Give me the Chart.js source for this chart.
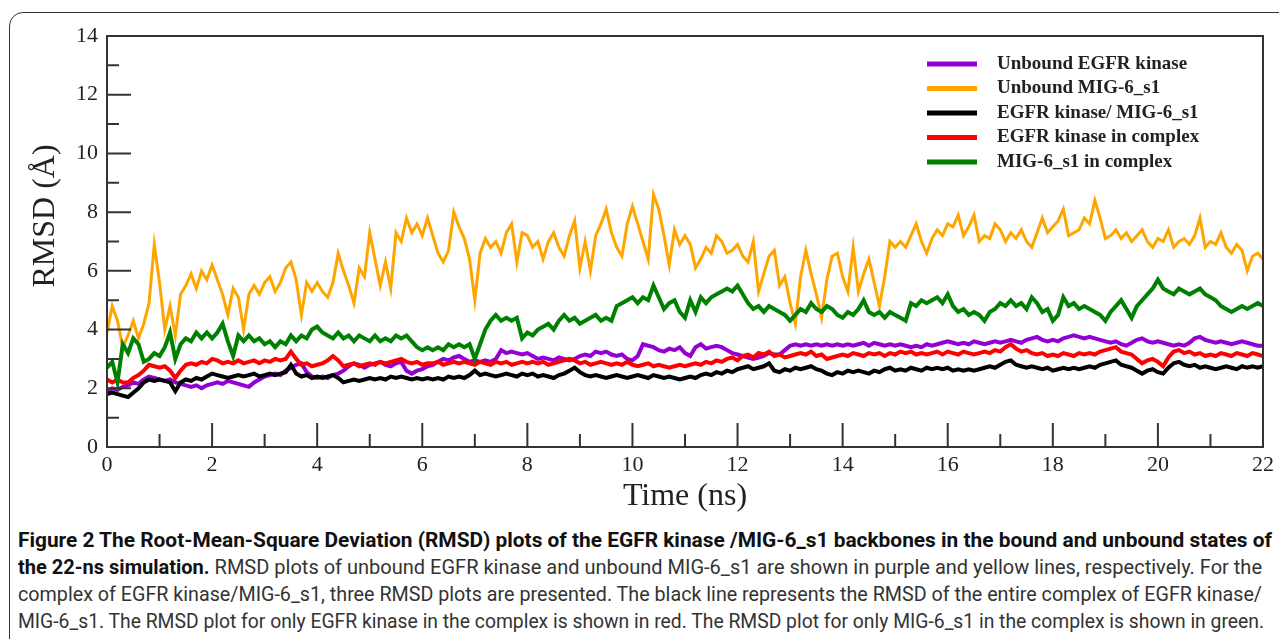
<!DOCTYPE html>
<html>
<head>
<meta charset="utf-8">
<script src="https://cdn.jsdelivr.net/npm/chart.js@4/dist/chart.umd.min.js"></script>
<style>
  html, body { margin: 0; padding: 0; background: #fff; }
  body { width: 1279px; height: 639px; position: relative; overflow: hidden; }
  #frame { position: absolute; left: 9px; top: 12px; width: 1300px; height: 660px;
           border: 1.5px solid #333; border-radius: 14px; box-sizing: border-box; }
  #chart-box { position: absolute; left: 0; top: 0; width: 1279px; height: 525px; }
  #caption { position: absolute; left: 18px; top: 527px; font-family: 'Liberation Sans Narrow', 'Roboto', 'Open Sans', sans-serif;
             font-size: 20.5px; line-height: 27px; color: #333; }
  #caption .line { white-space: nowrap; transform-origin: 0 50%; display: block; width: max-content; }
  #caption b { color: #111; }
</style>
</head>
<body>
<div id="frame"></div>
<div id="chart-box"><canvas id="rmsd-chart"></canvas></div>
<div id="caption">
  <span class="line" data-w="1254"><b>Figure 2 The Root-Mean-Square Deviation (RMSD) plots of the EGFR kinase /MIG-6_s1 backbones in the bound and unbound states of</b></span>
  <span class="line" data-w="1244"><b>the 22-ns simulation.</b> RMSD plots of unbound EGFR kinase and unbound MIG-6_s1 are shown in purple and yellow lines, respectively. For the</span>
  <span class="line" data-w="1244">complex of EGFR kinase/MIG-6_s1, three RMSD plots are presented. The black line represents the RMSD of the entire complex of EGFR kinase/</span>
  <span class="line" data-w="1246">MIG-6_s1. The RMSD plot for only EGFR kinase in the complex is shown in red. The RMSD plot for only MIG-6_s1 in the complex is shown in green.</span>
</div>
<script>
// RMSD traces, one value every 0.1 ns (0 .. 22 ns)
const timeStep = 0.1;
const timeNs = [];
for (let i = 0; i <= 220; i++) timeNs.push(+(i * timeStep).toFixed(1));

const seriesLabels = ['Unbound EGFR kinase', 'Unbound MIG-6_s1', 'EGFR kinase/ MIG-6_s1', 'EGFR kinase in complex', 'MIG-6_s1 in complex'];
const seriesColors = ['#9400d3', '#ffa500', '#000000', '#ff0000', '#008000'];

const unboundEgfr = [
  1.9,2.0,1.95,2.05,2.1,2.2,2.15,2.3,2.4,2.35, 2.3,2.25,2.3,2.2,2.15,2.1,2.05,2.1,2.0,2.1,
  2.15,2.2,2.15,2.25,2.2,2.15,2.1,2.05,2.2,2.3, 2.4,2.45,2.5,2.45,2.6,2.7,2.8,2.85,2.55,2.4,
  2.35,2.4,2.35,2.45,2.5,2.6,2.75,2.85,2.8,2.7, 2.8,2.85,2.9,2.8,2.75,2.85,2.9,2.6,2.5,2.6,
  2.65,2.75,2.8,2.9,3.0,2.95,3.05,3.1,3.0,2.9, 2.95,2.9,2.95,2.9,3.0,3.3,3.2,3.25,3.2,3.15,
  3.2,3.1,3.0,3.05,3.0,2.95,3.05,3.0,2.95,3.0, 3.1,3.15,3.1,3.25,3.2,3.25,3.15,3.1,3.15,3.0,
  2.95,3.1,3.5,3.45,3.4,3.3,3.25,3.35,3.3,3.4, 3.2,3.1,3.4,3.5,3.35,3.4,3.45,3.4,3.3,3.2,
  3.15,3.1,3.05,3.0,3.05,3.1,3.2,3.15,3.15,3.3, 3.45,3.5,3.45,3.5,3.45,3.5,3.45,3.5,3.45,3.5,
  3.45,3.5,3.45,3.5,3.55,3.45,3.55,3.5,3.45,3.5, 3.45,3.5,3.45,3.4,3.45,3.4,3.5,3.45,3.5,3.55,
  3.6,3.55,3.5,3.55,3.5,3.6,3.55,3.5,3.55,3.6, 3.55,3.6,3.65,3.6,3.55,3.65,3.7,3.75,3.65,3.6,
  3.65,3.6,3.7,3.75,3.8,3.75,3.7,3.75,3.7,3.65, 3.6,3.55,3.6,3.5,3.45,3.55,3.65,3.7,3.6,3.55,
  3.6,3.55,3.5,3.45,3.5,3.45,3.55,3.7,3.75,3.65, 3.6,3.55,3.6,3.55,3.5,3.55,3.6,3.55,3.5,3.45,
  3.45
];

const unboundMig6 = [
  3.9,4.8,4.3,3.4,3.8,4.3,3.7,4.2,4.9,6.9, 5.6,4.0,4.8,3.8,5.2,5.5,5.9,5.4,6.0,5.7,
  6.2,5.7,5.2,4.5,5.4,5.1,4.0,5.2,5.5,5.2, 5.6,5.8,5.3,5.6,6.1,6.3,5.7,4.5,5.6,5.3,
  5.6,5.3,5.1,5.6,6.6,6.0,5.5,4.9,6.1,5.8, 7.3,6.4,5.5,6.3,5.4,7.3,7.0,7.8,7.3,7.6,
  7.2,7.8,7.2,6.6,6.3,6.7,8.0,7.5,7.1,6.4, 5.0,6.6,7.1,6.8,7.0,6.6,7.3,7.6,6.3,7.3,
  7.2,6.8,7.0,6.4,7.0,7.3,6.8,6.5,7.2,7.7, 6.1,7.0,6.0,7.2,7.6,8.1,7.3,6.8,6.5,7.6,
  8.2,7.6,7.0,6.4,8.6,8.1,7.2,6.2,7.4,6.9, 7.2,6.9,6.1,6.4,6.8,6.6,7.2,7.0,6.6,6.7,
  6.9,6.5,6.3,7.0,5.3,5.9,6.5,6.7,5.5,5.8, 4.9,4.2,5.8,6.7,5.9,5.2,4.4,5.7,6.5,6.6,
  5.8,5.3,6.8,5.3,5.9,6.4,5.6,4.8,5.8,7.0, 6.8,7.0,6.8,7.2,7.6,7.0,6.6,7.1,7.4,7.2,
  7.6,7.5,7.9,7.2,7.5,7.9,7.0,7.2,7.1,7.6, 7.4,7.0,7.3,7.1,7.4,7.0,6.8,7.3,7.8,7.3,
  7.5,7.7,8.1,7.2,7.3,7.4,7.8,7.6,8.4,7.8, 7.1,7.2,7.4,7.1,7.3,7.0,7.2,7.4,7.0,6.8,
  7.1,7.0,7.4,6.8,7.0,7.1,6.9,7.2,7.8,6.8, 7.0,6.9,7.3,6.8,6.6,6.9,6.7,6.0,6.5,6.6,
  6.4
];

const complexWhole = [
  1.8,1.85,1.8,1.75,1.7,1.85,2.0,2.2,2.3,2.25, 2.3,2.25,2.2,1.9,2.2,2.3,2.25,2.35,2.3,2.4,
  2.5,2.45,2.4,2.35,2.4,2.45,2.4,2.45,2.5,2.4, 2.45,2.5,2.45,2.5,2.55,2.8,2.5,2.4,2.45,2.35,
  2.4,2.35,2.4,2.45,2.35,2.2,2.25,2.3,2.25,2.3, 2.35,2.3,2.35,2.3,2.4,2.35,2.4,2.35,2.3,2.35,
  2.3,2.35,2.3,2.35,2.3,2.4,2.35,2.4,2.35,2.45, 2.6,2.45,2.5,2.45,2.4,2.45,2.5,2.45,2.4,2.5,
  2.45,2.5,2.4,2.45,2.4,2.35,2.45,2.5,2.6,2.7, 2.55,2.45,2.4,2.45,2.4,2.35,2.4,2.45,2.4,2.35,
  2.4,2.45,2.4,2.35,2.45,2.4,2.35,2.4,2.35,2.3, 2.35,2.4,2.35,2.45,2.5,2.45,2.55,2.5,2.6,2.55,
  2.65,2.7,2.75,2.65,2.7,2.75,2.85,2.6,2.55,2.65, 2.6,2.7,2.65,2.7,2.75,2.65,2.6,2.5,2.45,2.55,
  2.5,2.6,2.55,2.6,2.55,2.5,2.6,2.55,2.65,2.7, 2.6,2.65,2.6,2.7,2.65,2.6,2.7,2.65,2.7,2.65,
  2.7,2.6,2.65,2.6,2.65,2.6,2.65,2.7,2.75,2.7, 2.8,2.9,2.95,2.8,2.75,2.7,2.75,2.7,2.65,2.7,
  2.6,2.65,2.7,2.65,2.7,2.65,2.7,2.75,2.7,2.8, 2.85,2.9,2.95,2.8,2.75,2.7,2.6,2.5,2.6,2.65,
  2.55,2.5,2.7,2.85,2.9,2.8,2.75,2.8,2.7,2.75, 2.7,2.65,2.7,2.75,2.7,2.65,2.75,2.7,2.75,2.7,
  2.75
];

const egfrInComplex = [
  2.3,2.2,2.3,2.2,2.2,2.35,2.45,2.6,2.8,2.75, 2.7,2.75,2.6,2.35,2.6,2.8,2.85,2.8,2.9,2.85,
  3.0,2.95,2.85,2.9,2.85,2.95,2.85,2.9,2.95,2.85, 2.95,2.9,3.0,2.95,3.0,3.25,3.0,2.8,2.85,2.75,
  2.8,2.85,2.95,3.1,2.95,2.75,2.8,2.85,2.75,2.8, 2.85,2.8,2.9,2.85,2.9,2.95,3.0,2.9,2.85,2.9,
  2.8,2.85,2.85,2.9,2.8,2.85,2.9,2.85,2.9,2.85, 2.8,2.9,2.85,2.8,2.9,2.85,2.9,2.8,2.85,2.9,
  2.85,2.9,2.85,2.9,2.8,2.85,2.9,2.95,3.0,2.95, 2.85,2.9,2.8,2.85,2.9,2.85,2.8,2.85,2.8,2.9,
  2.8,2.75,2.8,2.85,2.75,2.8,2.75,2.7,2.75,2.8, 2.75,2.8,2.85,2.8,2.9,2.85,2.95,2.9,3.0,3.05,
  2.95,3.1,3.15,3.05,3.2,3.15,3.25,3.1,3.15,3.05, 3.1,3.15,3.2,3.15,3.25,3.1,3.15,3.0,3.05,3.1,
  3.15,3.1,3.2,3.15,3.1,3.2,3.15,3.2,3.1,3.2, 3.15,3.25,3.2,3.25,3.15,3.2,3.15,3.2,3.25,3.15,
  3.25,3.2,3.15,3.25,3.2,3.15,3.2,3.25,3.2,3.3, 3.25,3.4,3.5,3.35,3.25,3.3,3.2,3.15,3.2,3.1,
  3.15,3.1,3.2,3.15,3.1,3.2,3.15,3.2,3.15,3.25, 3.3,3.35,3.4,3.25,3.2,3.15,3.0,2.85,2.95,3.0,
  2.9,2.75,3.05,3.25,3.3,3.2,3.25,3.15,3.2,3.1, 3.15,3.1,3.2,3.15,3.1,3.2,3.15,3.1,3.2,3.15,
  3.1
];

const mig6InComplex = [
  2.7,2.9,2.2,3.5,3.2,3.7,3.5,2.9,3.0,3.2, 3.1,3.4,3.9,3.0,3.5,3.7,3.6,3.9,3.7,3.9,
  3.7,3.9,4.2,3.6,3.1,3.8,3.6,3.8,3.6,3.7, 3.5,3.6,3.4,3.6,3.5,3.8,3.6,3.8,3.7,4.0,
  4.1,3.9,3.8,3.7,3.9,3.7,3.8,3.6,3.8,3.7, 3.6,3.8,3.6,3.7,3.6,3.8,3.7,3.8,3.6,3.4,
  3.3,3.4,3.3,3.4,3.3,3.5,3.4,3.5,3.4,3.5, 3.0,3.5,4.0,4.3,4.5,4.3,4.4,4.3,4.4,3.7,
  3.9,3.8,4.0,4.1,4.2,4.0,4.3,4.5,4.3,4.4, 4.2,4.3,4.4,4.5,4.3,4.4,4.3,4.8,4.9,5.0,
  5.1,4.9,5.1,5.0,5.5,5.1,4.7,4.9,5.0,4.6, 4.4,5.0,4.6,5.1,4.9,5.1,5.2,5.3,5.4,5.3,
  5.5,5.2,4.9,4.7,4.8,4.6,4.8,4.7,4.6,4.5, 4.3,4.5,4.7,4.6,4.9,4.7,4.6,4.8,4.7,4.5,
  4.4,4.6,4.5,4.7,5.0,4.6,4.5,4.6,4.4,4.6, 4.5,4.4,4.3,4.9,4.8,5.0,4.9,5.0,5.1,4.9,
  5.2,4.8,4.6,4.7,4.5,4.6,4.5,4.3,4.6,4.7, 4.9,4.8,5.0,4.8,4.9,4.7,5.1,4.9,4.6,4.7,
  4.3,4.5,5.1,4.8,4.9,4.7,4.8,4.7,4.6,4.5, 4.3,4.6,4.8,5.0,4.7,4.4,4.8,5.0,5.2,5.4,
  5.7,5.4,5.3,5.2,5.4,5.3,5.2,5.3,5.4,5.2, 5.1,5.0,4.8,4.7,4.6,4.7,4.8,4.7,4.8,4.9,
  4.8
];

const seriesValues = [unboundEgfr, unboundMig6, complexWhole, egfrInComplex, mig6InComplex];
const lineWidths = [4, 3, 4, 4, 4];
const yTicks = { min: 0, max: 14, step: 2 };
const xTicks = { min: 0, max: 22, step: 2 };

const serif = "'Liberation Serif', 'Times New Roman', serif";

// axis frame, inward ticks, legend and y title
const xmgracePlugin = {
  id: 'xmgrace',
  afterDraw(chart) {
    const ctx = chart.ctx;
    const a = chart.chartArea;
    const xs = chart.scales.x, ys = chart.scales.y;
    ctx.save();
    ctx.strokeStyle = '#333';
    ctx.lineWidth = 2;
    ctx.strokeRect(a.left, a.top, a.right - a.left, a.bottom - a.top);
    ctx.beginPath();
    for (let v = yTicks.min + 1; v < yTicks.max; v++) {
      const y = ys.getPixelForValue(v);
      const len = v % 2 === 0 ? 24 : 12;
      ctx.moveTo(a.left, y);
      ctx.lineTo(a.left + len, y);
    }
    for (let t = xTicks.min + 1; t < xTicks.max; t++) {
      const x = xs.getPixelForValue(t);
      const len = t % 2 === 0 ? 24 : 13;
      ctx.moveTo(x, a.bottom);
      ctx.lineTo(x, a.bottom - len);
    }
    ctx.stroke();

    // legend
    ctx.font = 'bold 19px ' + serif;
    ctx.textBaseline = 'middle';
    ctx.textAlign = 'left';
    chart.data.datasets.forEach((d, i) => {
      const y = a.top + 28 + i * 24.5;
      ctx.strokeStyle = d.borderColor;
      ctx.lineWidth = 5;
      ctx.beginPath();
      ctx.moveTo(a.left + 820, y);
      ctx.lineTo(a.left + 870, y);
      ctx.stroke();
      ctx.fillStyle = '#222';
      ctx.fillText(d.label, a.left + 890, y);
    });

    // y title
    ctx.translate(46, 216);
    ctx.rotate(-Math.PI / 2);
    ctx.font = '32px ' + serif;
    ctx.textAlign = 'center';
    ctx.fillStyle = '#222';
    ctx.fillText('RMSD (Å)', 0, 0);
    ctx.restore();
  }
};

const orders = [5, 4, 3, 2, 1];
const datasets = seriesValues.map((vals, i) => ({
  label: seriesLabels[i],
  data: timeNs.map((t, j) => ({ x: t, y: vals[j] })),
  borderColor: seriesColors[i],
  backgroundColor: seriesColors[i],
  borderWidth: lineWidths[i],
  borderJoinStyle: 'miter',
  pointRadius: 0,
  tension: 0,
  order: orders[i]
}));

new Chart(document.getElementById('rmsd-chart'), {
  type: 'line',
  data: { datasets: datasets },
  options: {
    responsive: true,
    maintainAspectRatio: false,
    animation: false,
    devicePixelRatio: 1,
    layout: { padding: { top: 36, right: 15, left: 0, bottom: 0 } },
    plugins: { legend: { display: false }, tooltip: { enabled: false } },
    scales: {
      x: {
        type: 'linear',
        min: xTicks.min,
        max: xTicks.max,
        ticks: { stepSize: xTicks.step, font: { family: serif, size: 22 }, color: '#222', padding: 5, maxRotation: 0 },
        grid: { display: false, drawTicks: false },
        border: { display: false },
        title: { display: true, text: 'Time (ns)', font: { family: serif, size: 32 }, color: '#222', padding: { top: 0, bottom: 9 } },
        afterFit: s => { s.height = 78; }
      },
      y: {
        min: yTicks.min,
        max: yTicks.max,
        ticks: { stepSize: yTicks.step, font: { family: serif, size: 22 }, color: '#222', padding: 9 },
        grid: { display: false, drawTicks: false },
        border: { display: false },
        afterFit: s => { s.width = 107; }
      }
    }
  },
  plugins: [xmgracePlugin]
});

// squeeze caption lines to the widths in the figure
document.querySelectorAll('#caption .line').forEach(el => {
  const w = el.getBoundingClientRect().width;
  el.style.transform = 'scaleX(' + (+el.dataset.w / w) + ')';
});
</script>
</body>
</html>
